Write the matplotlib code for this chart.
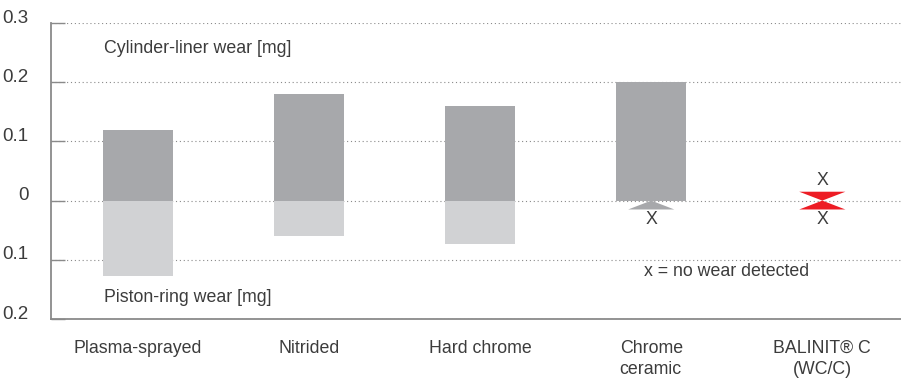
import numpy as np
import matplotlib
matplotlib.use("Agg")
import matplotlib.pyplot as plt
from matplotlib.transforms import ScaledTranslation

plt.rcParams['font.family'] = ['Liberation Sans', 'DejaVu Sans']

# Данные
categories = ["Plasma-sprayed", "Nitrided", "Hard chrome", "Chrome\nceramic", "BALINIT® C\n(WC/C)"]
liner_wear = [0.12, 0.18, 0.16, 0.20, 0.0]
ring_wear = [0.128, 0.06, 0.073, 0.0, 0.0]
marker_colors = ["#a7a8ab", "#a7a8ab", "#a7a8ab", "#a7a8ab", "#ed1c24"]
yticks = [-0.2, -0.1, 0.0, 0.1, 0.2, 0.3]

text_color = "#3c3c3c"
dark_gray = "#a7a8ab"
light_gray = "#d1d2d4"
fs = 12.8

fig = plt.figure(figsize=(9.01, 3.82), dpi=100)
ax = fig.add_axes([51 / 901, 63 / 382, 850 / 901, 296 / 382])

x = np.arange(len(categories))
w = 0.41
ax.bar(x, liner_wear, width=w, color=dark_gray, zorder=2)
ax.bar(x, [-v for v in ring_wear], width=w, color=light_gray, zorder=2)

# Маркеры "нет износа"
tw = 0.135   # половина ширины треугольника
th = 0.015   # высота треугольника
for xi, lw, rw, c in zip(x, liner_wear, ring_wear, marker_colors):
    if rw == 0:
        ax.fill([xi - tw, xi + tw, xi], [-th, -th, 0], color=c, lw=0, zorder=3)
        ax.text(xi, -0.032, "X", ha='center', va='center', fontsize=fs, color=text_color)
    if lw == 0:
        ax.fill([xi - tw, xi + tw, xi], [th, th, 0], color=c, lw=0, zorder=3)
        ax.text(xi, 0.034, "X", ha='center', va='center', fontsize=fs, color=text_color)

ax.set_xlim(-0.509, 4.46)
ax.set_ylim(-0.2, 0.3)

ax.set_yticks(yticks)
ax.set_yticklabels(["0" if v == 0 else f"{abs(v):.1f}" for v in yticks])
ax.set_xticks([])
ax.yaxis.grid(True, linestyle=(0, (1, 2.5)), color="#8a8a8a", linewidth=0.8)
ax.set_axisbelow(True)
ax.tick_params(axis='y', direction='in', length=10, width=1.0, color="#8a8a8a",
               pad=16, labelsize=13.5, labelcolor=text_color)
offset = ScaledTranslation(0, 5 / 72, fig.dpi_scale_trans)
for lab in ax.get_yticklabels():
    lab.set_transform(lab.get_transform() + offset)

for side in ['top', 'right']:
    ax.spines[side].set_visible(False)
for side in ['left', 'bottom']:
    ax.spines[side].set_color("#8a8a8a")
    ax.spines[side].set_linewidth(1.3)

# Подписи категорий
for xi, name in zip(x, categories):
    ma = 'left' if name.startswith("Chrome") else 'center'
    ax.text(xi, -0.235, name, ha='center', va='top', fontsize=fs, color=text_color,
            multialignment=ma, linespacing=1.3)

ax.text(-0.2, 0.257, "Cylinder-liner wear [mg]", ha='left', va='center', fontsize=fs, color=text_color)
ax.text(-0.2, -0.163, "Piston-ring wear [mg]", ha='left', va='center', fontsize=fs, color=text_color)
ax.text(2.96, -0.119, "x = no wear detected", ha='left', va='center', fontsize=fs, color=text_color)

fig.savefig("out.png", dpi=100)
